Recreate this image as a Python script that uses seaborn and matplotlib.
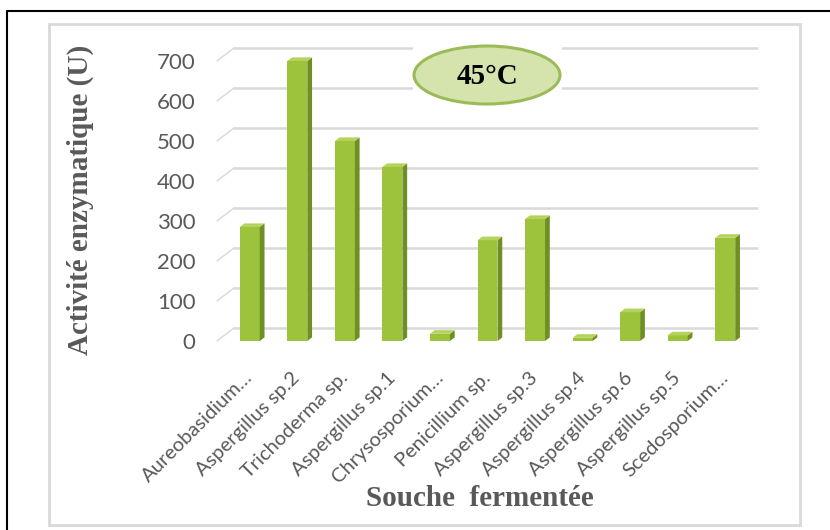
import numpy as np
import pandas as pd
import seaborn as sns
import matplotlib
matplotlib.use("Agg")
import matplotlib.pyplot as plt
from matplotlib.patches import Polygon, Ellipse, Rectangle
from matplotlib.lines import Line2D
import matplotlib.transforms as mtransforms

# Enzymatic activity of each fermented strain at 45 °C
souches = ["Aureobasidium…", "Aspergillus sp.2", "Trichoderma sp.", "Aspergillus sp.1",
           "Chrysosporium…", "Penicillium sp.", "Aspergillus sp.3", "Aspergillus sp.4",
           "Aspergillus sp.6", "Aspergillus sp.5", "Scedosporium…"]
activite = [285, 700, 500, 435, 18, 252, 305, 8, 72, 14, 258]
y_ticks = [0, 100, 200, 300, 400, 500, 600, 700]

df = pd.DataFrame({"souche": souches, "activite": activite})

sns.set_theme(style="white")
plt.rcParams["font.family"] = ["Lato", "DejaVu Sans"]

W, H = 830, 530
fig = plt.figure(figsize=(W / 100, H / 100), dpi=100)
fig.patch.set_facecolor("white")

def fx(px):
    return px / W

def fy(py):
    return 1 - py / H

# outer frame (top and left edges) and inner light-grey chart border
fig.add_artist(Line2D([fx(7), fx(830)], [fy(11), fy(11)], color="black", lw=1.5))
fig.add_artist(Line2D([fx(7), fx(7)], [fy(11), fy(530)], color="black", lw=1.5))
fig.add_artist(Rectangle((fx(49), fy(525)), fx(800 - 49), (525 - 24) / H,
                         fill=False, edgecolor="#d9d9d9", lw=2))

left, right, top, bottom = 226, 749, 61, 341
ax = fig.add_axes([fx(left), fy(bottom), fx(right - left), (bottom - top) / H])
ax.set_facecolor("none")

front = "#9dc33c"
side = "#6e8f24"
cap = "#b4d35c"

sns.barplot(data=df, x="souche", y="activite", color=front, width=0.42,
            saturation=1, edgecolor="none", ax=ax, zorder=3)

ax.set_xlim(-0.5, len(souches) - 0.5)
ax.set_ylim(0, 700)

# 3D look: side and top faces, offset in data units
dx, dy = 0.1, 9
for p in list(ax.patches):
    x0, w, h = p.get_x(), p.get_width(), p.get_height()
    ax.add_patch(Polygon([(x0 + w, 0), (x0 + w + dx, dy), (x0 + w + dx, h + dy), (x0 + w, h)],
                         closed=True, facecolor=side, edgecolor="none", zorder=3, clip_on=False))
    ax.add_patch(Polygon([(x0, h), (x0 + dx, h + dy), (x0 + w + dx, h + dy), (x0 + w, h)],
                         closed=True, facecolor=cap, edgecolor="none", zorder=3, clip_on=False))

# back-wall gridlines
back = ax.get_yaxis_transform() + mtransforms.ScaledTranslation(0.08, 0.13, fig.dpi_scale_trans)
for v in y_ticks:
    ax.add_line(Line2D([0, 1], [v, v], transform=back, color="#d9d9d9", lw=1.8,
                       zorder=1, clip_on=False))
# slanted side-wall edges, drawn in display pixels
for v in y_ticks:
    x_front, y_front = ax.transData.transform((-0.5, v))
    ax.add_line(Line2D([x_front - 9, x_front + 8], [y_front, y_front + 13],
                       transform=mtransforms.IdentityTransform(), color="#dcdcdc",
                       lw=1.2, zorder=1, clip_on=False))

for s in ax.spines.values():
    s.set_visible(False)

ax.set_yticks(y_ticks)
ax.set_yticklabels([str(t) for t in y_ticks], color="#595959", fontsize=16)
ax.tick_params(axis="y", length=0, pad=22)
ax.tick_params(axis="x", length=0, pad=20)
ax.set_xticks(range(len(souches)))
ax.set_xticklabels(souches, rotation=45, ha="right", rotation_mode="anchor",
                   color="#595959", fontsize=14.5)
for lbl in ax.get_xticklabels():
    lbl.set_transform(lbl.get_transform() +
                      mtransforms.ScaledTranslation(-0.06, 0, fig.dpi_scale_trans))

ax.set_xlabel("")
ax.set_ylabel("")

fig.text(fx(80), fy(200), "Activité enzymatique (U)", rotation=90, ha="center", va="center",
         fontsize=21, fontweight="bold", color="#595959", family="Liberation Serif")
fig.text(fx(480), fy(498), "Souche  fermentée", ha="center", va="center",
         fontsize=21, fontweight="bold", color="#595959", family="Liberation Serif")

# temperature badge
fig.add_artist(Rectangle((fx(413), fy(108)), fx(562 - 413), (108 - 43) / H,
                         facecolor="white", edgecolor="none", zorder=4))
fig.add_artist(Ellipse((fx(487), fy(75)), fx(146), 58 / H, facecolor="#d5e4ad",
                       edgecolor="#9bbb59", lw=2.2, zorder=5))
fig.text(fx(487), fy(76), "45°C", ha="center", va="center", fontsize=21,
         fontweight="bold", color="black", family="Liberation Serif", zorder=6)

fig.savefig("out.png", dpi=100, facecolor="white")
